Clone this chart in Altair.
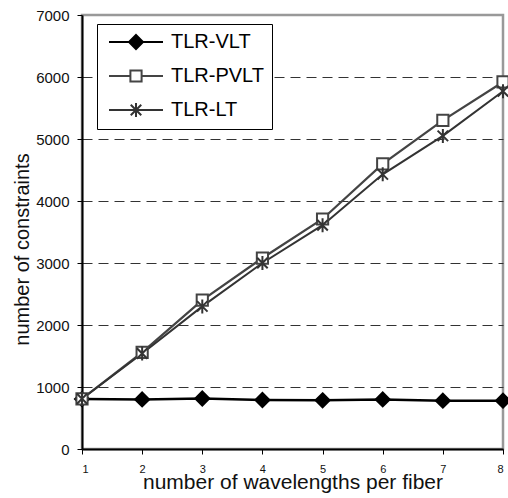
import altair as alt
import pandas as pd

wavelengths = [1, 2, 3, 4, 5, 6, 7, 8]
tlr_vlt = [805, 800, 815, 790, 785, 800, 780, 780]
tlr_pvlt = [810, 1560, 2400, 3080, 3710, 4600, 5300, 5920]
tlr_lt = [810, 1540, 2300, 3000, 3610, 4430, 5050, 5770]
series_names = ["TLR-VLT", "TLR-PVLT", "TLR-LT"]
y_ticks = [0, 1000, 2000, 3000, 4000, 5000, 6000, 7000]

df = pd.DataFrame({
    "wavelengths": wavelengths * 3,
    "constraints": tlr_vlt + tlr_pvlt + tlr_lt,
    "series": [s for s in series_names for _ in wavelengths],
})

FONT = "Liberation Sans"
line_colors = ["#000000", "#444444", "#333333"]
fill_colors = ["#000000", "#ffffff", "transparent"]

point_paths = [
    "M0,-1L1,0L0,1L-1,0Z",
    "M-0.8,-0.8L0.8,-0.8L0.8,0.8L-0.8,0.8Z",
    "M-0.75,-0.75L0.75,0.75M-0.75,0.75L0.75,-0.75M0,-1L0,1",
]
legend_paths = [
    "M-0.857,0L2,0M4,0L6.857,0M3,-1L4,0L3,1L2,0Z",
    "M-0.857,0L2.2,0M3.8,0L6.857,0M2.2,-0.8L3.8,-0.8L3.8,0.8L2.2,0.8Z",
    "M-0.857,0L6.857,0M2.25,-0.75L3.75,0.75M2.25,0.75L3.75,-0.75M3,-1L3,1",
]

x_enc = alt.X(
    "wavelengths:Q",
    scale=alt.Scale(domain=[1, 8], nice=False, zero=False),
    axis=alt.Axis(
        values=wavelengths, format="d", title="number of wavelengths per fiber",
        grid=False, domainColor="black", domainWidth=2, tickColor="black",
        tickSize=5, tickWidth=1, labelFontSize=11, labelFont=FONT, labelColor="#111",
        labelPadding=9, titleFont=FONT, titleFontSize=21, titleFontWeight="normal",
        titleColor="#111", titleBaseline="alphabetic", titleY=39,
    ),
)
y_enc = alt.Y(
    "constraints:Q",
    scale=alt.Scale(domain=[0, 7000], nice=False),
    axis=alt.Axis(
        values=y_ticks, format="d", title="number of constraints",
        grid=True, gridDash=[10, 6], gridColor="#333333", gridWidth=1,
        gridOpacity={"condition": {"test": "datum.value >= 7000 || datum.value <= 0", "value": 0}, "value": 1},
        domainColor="black", domainWidth=2, tickColor="black", tickSize=5,
        labelFontSize=15, labelFont=FONT, labelColor="#111", labelPadding=8,
        titleFont=FONT, titleFontSize=20, titleFontWeight="normal", titleColor="#111",
        titleBaseline="alphabetic", titleAngle=270, titleX=-54, titleY=234,
        titleAlign="center",
    ),
)

base = alt.Chart(df)

lines = base.mark_line().encode(
    x=x_enc, y=y_enc,
    color=alt.Color("series:N", scale=alt.Scale(domain=series_names, range=line_colors), legend=None),
    size=alt.Size("series:N", scale=alt.Scale(domain=series_names, range=[2.5, 2, 2]), legend=None),
    detail="series:N",
)

points = base.mark_point(size=196, strokeWidth=2, opacity=1).encode(
    x=x_enc, y=y_enc,
    shape=alt.Shape("series:N", scale=alt.Scale(domain=series_names, range=point_paths), legend=None),
    fill=alt.Fill("series:N", scale=alt.Scale(domain=series_names, range=fill_colors), legend=None),
    stroke=alt.Stroke("series:N", scale=alt.Scale(domain=series_names, range=line_colors), legend=None),
)

leg = alt.Legend(
    title=None, orient="none", legendX=15, legendY=9,
    strokeColor="black", fillColor="white", padding=8, cornerRadius=0,
    labelFontSize=20, labelFont=FONT, labelColor="black", labelOffset=46,
    rowPadding=13, symbolSize=196, symbolStrokeWidth=2, labelLimit=300,
)

legend_layer = base.transform_filter("false").mark_point(size=196, strokeWidth=2, opacity=1).encode(
    x=x_enc, y=y_enc,
    shape=alt.Shape("series:N", scale=alt.Scale(domain=series_names, range=legend_paths), legend=leg),
    fill=alt.Fill("series:N", scale=alt.Scale(domain=series_names, range=fill_colors), legend=leg),
    stroke=alt.Stroke("series:N", scale=alt.Scale(domain=series_names, range=line_colors), legend=leg),
)

chart = (
    alt.layer(lines, points, legend_layer)
    .resolve_scale(shape="independent", fill="independent", stroke="independent")
    .properties(
        width=421, height=434,
        autosize=alt.AutoSizeParams(type="none"),
        padding={"left": 82, "top": 15, "right": 5, "bottom": 49},
        background="white",
    )
    .configure_view(stroke="#999999", strokeWidth=2.5)
)

chart.save("out.html", embed_options={"renderer": "svg", "actions": False})
